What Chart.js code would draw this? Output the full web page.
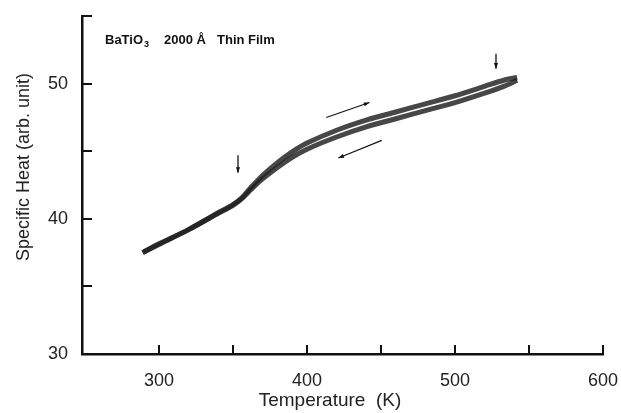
<!DOCTYPE html>
<html>
<head>
<meta charset="utf-8">
<title>BaTiO3 thin film specific heat</title>
<script src="https://cdn.jsdelivr.net/npm/chart.js@4.4.1/dist/chart.umd.min.js"></script>
<style>
  html, body { margin: 0; padding: 0; background: #fff; }
  #wrap { width: 621px; height: 413px; }
</style>
</head>
<body>
<div id="wrap"><canvas id="chart" width="621" height="413"></canvas></div>
<script>
// heating run (upper branch)
const tempUp = [289, 300, 320, 340, 350, 356, 362, 370, 380, 390, 400, 420, 440, 460, 480, 500, 520, 533, 542]
const heatUp = [37.5, 38.15, 39.2, 40.45, 41.05, 41.55, 42.3, 43.2, 44.15, 44.95, 45.6, 46.55, 47.3, 47.9, 48.5, 49.1, 49.8, 50.25, 50.45]

// cooling run (lower branch)
const tempDown = [289, 300, 320, 340, 350, 356, 362, 370, 380, 390, 400, 420, 440, 460, 480, 500, 520, 533, 542]
const heatDown = [37.5, 38.1, 39.2, 40.4, 41.0, 41.5, 42.15, 42.95, 43.8, 44.55, 45.15, 46.05, 46.8, 47.4, 48.0, 48.6, 49.3, 49.8, 50.25]

// axis ticks (marks) and labelled ticks
const xTicks = [300, 350, 400, 450, 500, 550, 600]
const xLabels = [300, 400, 500, 600]
const yTicks = [35, 40, 45, 50, 55]
const yLabels = [30, 40, 50]

// annotations in data units: [x1, y1, x2, y2]
const markArrows = [[353.4, 44.7, 353.4, 43.4], [527.7, 52.2, 527.7, 51.1]]
const runArrows = [[413, 47.5, 442.2, 48.6], [450.5, 45.8, 421.2, 44.5]]

const FONT = '"Liberation Sans", Arial, Helvetica, sans-serif'

function toPoints(xs, ys) {
  return xs.map((x, i) => ({ x: x, y: ys[i] }))
}

function arrow(ctx, x1, y1, x2, y2, head) {
  ctx.beginPath()
  ctx.moveTo(x1, y1)
  ctx.lineTo(x2, y2)
  ctx.stroke()
  const a = Math.atan2(y2 - y1, x2 - x1)
  ctx.beginPath()
  ctx.moveTo(x2, y2)
  ctx.lineTo(x2 - head * Math.cos(a - 0.35), y2 - head * Math.sin(a - 0.35))
  ctx.lineTo(x2 - head * Math.cos(a + 0.35), y2 - head * Math.sin(a + 0.35))
  ctx.closePath()
  ctx.fill()
}

const decorations = {
  id: 'decorations',
  afterDraw(chart) {
    const ctx = chart.ctx
    const xs = chart.scales.x
    const ys = chart.scales.y
    const area = chart.chartArea
    ctx.save()
    ctx.strokeStyle = '#111'
    ctx.fillStyle = '#111'

    // inward tick marks
    ctx.lineWidth = 2
    xTicks.forEach(v => {
      const px = Math.round(xs.getPixelForValue(v))
      ctx.beginPath()
      ctx.moveTo(px, area.bottom)
      ctx.lineTo(px, area.bottom - 9)
      ctx.stroke()
    })
    yTicks.forEach(v => {
      const py = Math.round(ys.getPixelForValue(v))
      ctx.beginPath()
      ctx.moveTo(area.left, py)
      ctx.lineTo(area.left + 10, py)
      ctx.stroke()
    })

    // transition markers
    ctx.lineWidth = 1.3
    markArrows.forEach(a => {
      arrow(ctx, xs.getPixelForValue(a[0]), ys.getPixelForValue(a[1]),
        xs.getPixelForValue(a[2]), ys.getPixelForValue(a[3]), 6)
    })
    // heating / cooling direction
    ctx.lineWidth = 1.1
    runArrows.forEach(a => {
      arrow(ctx, xs.getPixelForValue(a[0]), ys.getPixelForValue(a[1]),
        xs.getPixelForValue(a[2]), ys.getPixelForValue(a[3]), 6)
    })

    // sample label
    ctx.fillStyle = '#111'
    ctx.textBaseline = 'alphabetic'
    ctx.textAlign = 'left'
    ctx.font = 'bold 13px ' + FONT
    ctx.fillText('BaTiO', 105, 44)
    const w = ctx.measureText('BaTiO').width
    ctx.font = 'bold 9px ' + FONT
    ctx.fillText('3', 105 + w + 1, 47)
    ctx.font = 'bold 13px ' + FONT
    ctx.fillText('2000 Å', 164, 44)
    ctx.fillText('Thin Film', 217, 44)

    // axis titles
    ctx.fillStyle = '#222'
    ctx.textAlign = 'center'
    ctx.textBaseline = 'middle'
    ctx.font = '19px ' + FONT
    ctx.fillText('Temperature  (K)', 330, 401)
    ctx.font = '18px ' + FONT
    ctx.translate(24, 167)
    ctx.rotate(-Math.PI / 2)
    ctx.fillText('Specific Heat (arb. unit)', 0, 0)
    ctx.restore()
  }
}

const band = {
  borderColor: 'rgba(30, 30, 30, 0.82)',
  borderWidth: 5,
  pointRadius: 0,
  tension: 0.3,
  fill: false
}

new Chart(document.getElementById('chart'), {
  type: 'line',
  data: {
    datasets: [
      Object.assign({ label: 'heating', data: toPoints(tempUp, heatUp) }, band),
      Object.assign({ label: 'cooling', data: toPoints(tempDown, heatDown) }, band)
    ]
  },
  options: {
    responsive: false,
    animation: false,
    layout: { padding: { top: 16, right: 18, left: 0, bottom: 0 } },
    plugins: { legend: { display: false }, tooltip: { enabled: false } },
    scales: {
      x: {
        type: 'linear',
        min: 248,
        max: 600,
        afterBuildTicks: s => { s.ticks = xLabels.map(v => ({ value: v })) },
        afterFit: s => {
          s.height = 59
          s.paddingLeft = 0
          s.paddingRight = 0
        },
        grid: { display: false, drawTicks: false },
        border: { display: true, width: 2.5, color: '#111' },
        ticks: {
          padding: 16,
          color: '#222',
          maxRotation: 0,
          autoSkip: false,
          font: { family: FONT, size: 18 }
        }
      },
      y: {
        type: 'linear',
        min: 30,
        max: 55,
        afterBuildTicks: s => { s.ticks = yLabels.map(v => ({ value: v })) },
        afterFit: s => {
          s.width = 82
          s.paddingTop = 0
          s.paddingBottom = 0
        },
        grid: { display: false, drawTicks: false },
        border: { display: true, width: 2.5, color: '#111' },
        ticks: {
          padding: 14,
          color: '#222',
          font: { family: FONT, size: 18 }
        }
      }
    }
  },
  plugins: [decorations]
})
</script>
</body>
</html>
